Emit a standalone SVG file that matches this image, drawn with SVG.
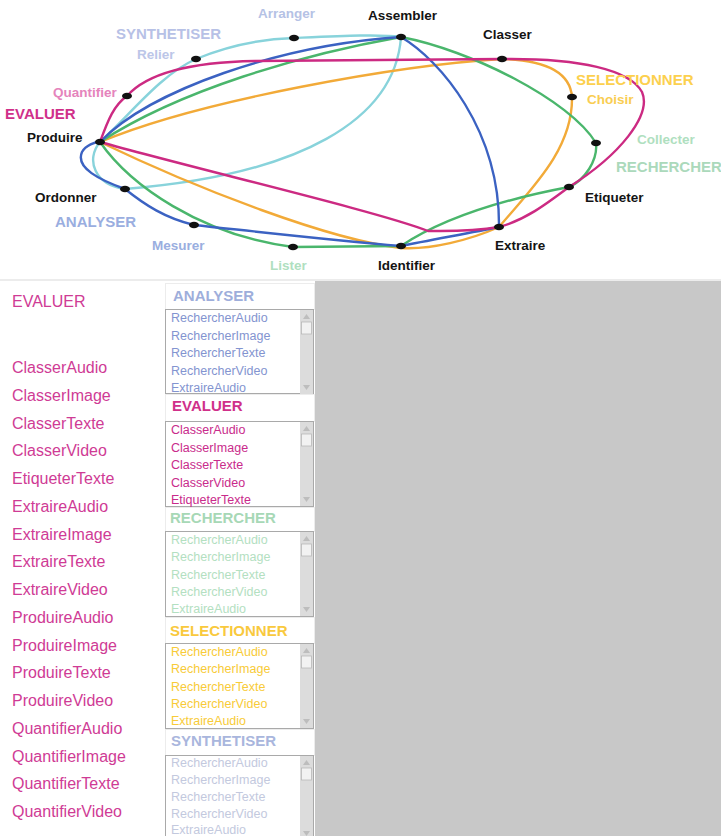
<svg xmlns="http://www.w3.org/2000/svg" width="721" height="836" viewBox="0 0 721 836">
<style>
text{font-family:"Liberation Sans",Arial,sans-serif}
.b{font-weight:bold}
.lbl{font-size:13.5px;font-weight:bold}
.big{font-size:15px;font-weight:bold}
.blk{fill:#141414}
.c{fill:none;stroke-width:2.4;stroke-linecap:round;stroke-linejoin:round}
.mag{stroke:#cc2a82}
.blu{stroke:#3b62c2}
.grn{stroke:#4ab66c}
.org{stroke:#f2aa38}
.cya{stroke:#88d3db}
.dot{fill:#111}
.lst{font-size:16px;fill:#cf3b95}
.itm{font-size:12.5px}
.box{fill:#fff;stroke:#a9a9a9;stroke-width:1}
.hdr{fill:#fff;stroke:#ececec;stroke-width:1}
.trk{fill:#dcdcdc}
.thm{fill:#f2f2f2;stroke:#b8b8b8;stroke-width:0.8}
.arw{fill:#bdbdbd}
</style>
<rect x="0" y="0" width="721" height="836" fill="#fff"/>
<g id="connectors">
<path class="c cya" d="M100,142 C130,115 160,75 196,59 C230,45 260,39 294,38 C340,36 380,34 401,37 C395,120 300,175 125,189 C95,185 85,160 100,142"/>
<path class="c org" d="M100,142 C200,100 400,65 502,59 C540,60 570,70 572,97 C573,150 530,190 499,227 C470,240 430,250 401,248 C330,240 200,190 100,142"/>
<path class="c grn" d="M100,142 C180,90 300,55 401,37 C470,50 570,100 596,143 C598,160 585,180 569,187 C500,200 440,220 401,246 L293,247 C200,235 130,185 100,142"/>
<path class="c blu" d="M100,142 C150,90 280,45 401,37 C440,60 500,130 499,227 C470,233 430,240 401,246 C330,240 260,232 194,225 C165,218 145,205 125,189 C100,180 75,168 82,152 C86,145 95,142 100,142"/>
<path class="c mag" d="M100,142 C108,120 114,105 127,96 C148,72 195,62 255,61 L502,59 C580,58 630,70 642,92 C652,115 620,155 569,187 C545,205 525,220 499,227 C470,232 445,231 428,231 C380,212 200,170 100,142"/>
</g>
<g id="node-produire"><ellipse class="dot" cx="100" cy="142" rx="5" ry="3.2"/><text class="lbl blk" x="27" y="142">Produire</text></g>
<g id="node-evaluer"><text class="big" x="5" y="119" fill="#d0308a">EVALUER</text></g>
<g id="node-quantifier"><ellipse class="dot" cx="127" cy="96" rx="5" ry="3.2"/><text class="lbl" x="53" y="97" fill="#e584bc">Quantifier</text></g>
<g id="node-synthetiser"><text class="big" x="116" y="39" fill="#b7c1e6">SYNTHETISER</text></g>
<g id="node-relier"><ellipse class="dot" cx="196" cy="59" rx="5" ry="3.2"/><text class="lbl" x="137" y="59" fill="#bcc6e8">Relier</text></g>
<g id="node-arranger"><ellipse class="dot" cx="294" cy="38" rx="5" ry="3.2"/><text class="lbl" x="258" y="18" fill="#b5c2e5">Arranger</text></g>
<g id="node-assembler"><ellipse class="dot" cx="401" cy="37" rx="5" ry="3.2"/><text class="lbl blk" x="368" y="20">Assembler</text></g>
<g id="node-classer"><ellipse class="dot" cx="502" cy="59" rx="5" ry="3.2"/><text class="lbl blk" x="483" y="39">Classer</text></g>
<g id="node-selectionner"><text class="big" x="576" y="85" fill="#fcd04e">SELECTIONNER</text></g>
<g id="node-choisir"><ellipse class="dot" cx="572" cy="97" rx="5" ry="3.2"/><text class="lbl" x="587" y="104" fill="#f9cd52">Choisir</text></g>
<g id="node-collecter"><ellipse class="dot" cx="596" cy="143" rx="5" ry="3.2"/><text class="lbl" x="637" y="144" fill="#b0dfc0">Collecter</text></g>
<g id="node-rechercher"><text class="big" x="616" y="172" font-size="14.3" fill="#abd9bb">RECHERCHER</text></g>
<g id="node-etiqueter"><ellipse class="dot" cx="569" cy="187" rx="5" ry="3.2"/><text class="lbl blk" x="585" y="202">Etiqueter</text></g>
<g id="node-extraire"><ellipse class="dot" cx="499" cy="227" rx="5" ry="3.2"/><text class="lbl blk" x="495" y="250">Extraire</text></g>
<g id="node-identifier"><ellipse class="dot" cx="401" cy="246" rx="5" ry="3.2"/><text class="lbl blk" x="378" y="270">Identifier</text></g>
<g id="node-lister"><ellipse class="dot" cx="293" cy="247" rx="5" ry="3.2"/><text class="lbl" x="270" y="270" fill="#b0dfc0">Lister</text></g>
<g id="node-mesurer"><ellipse class="dot" cx="194" cy="225" rx="5" ry="3.2"/><text class="lbl" x="152" y="250" fill="#9aaee0">Mesurer</text></g>
<g id="node-analyser"><text class="big" x="55" y="227" fill="#9aaee0">ANALYSER</text></g>
<g id="node-ordonner"><ellipse class="dot" cx="125" cy="189" rx="5" ry="3.2"/><text class="lbl blk" x="35" y="202">Ordonner</text></g>

<line x1="0" y1="280" x2="721" y2="280" stroke="#e6e6e6" stroke-width="1.5"/>
<rect x="315" y="281" width="406" height="555" fill="#c8c8c8"/>

<g id="left-list">
<text class="lst" x="12" y="307" font-size="15.5">EVALUER</text>
<text class="lst" x="12" y="373">ClasserAudio</text>
<text class="lst" x="12" y="400.75">ClasserImage</text>
<text class="lst" x="12" y="428.5">ClasserTexte</text>
<text class="lst" x="12" y="456.25">ClasserVideo</text>
<text class="lst" x="12" y="484">EtiqueterTexte</text>
<text class="lst" x="12" y="511.75">ExtraireAudio</text>
<text class="lst" x="12" y="539.5">ExtraireImage</text>
<text class="lst" x="12" y="567.25">ExtraireTexte</text>
<text class="lst" x="12" y="595">ExtraireVideo</text>
<text class="lst" x="12" y="622.75">ProduireAudio</text>
<text class="lst" x="12" y="650.5">ProduireImage</text>
<text class="lst" x="12" y="678.25">ProduireTexte</text>
<text class="lst" x="12" y="706">ProduireVideo</text>
<text class="lst" x="12" y="733.75">QuantifierAudio</text>
<text class="lst" x="12" y="761.5">QuantifierImage</text>
<text class="lst" x="12" y="789.25">QuantifierTexte</text>
<text class="lst" x="12" y="817">QuantifierVideo</text>
</g>

<defs>
<g id="sb">
<rect class="trk" x="300" y="0" width="13" height="84"/>
<path class="arw" d="M303,9 L306.5,4 L310,9 Z"/>
<rect class="thm" x="301.5" y="12" width="10" height="12"/>
<path class="arw" d="M303,75 L306.5,80 L310,75 Z"/>
</g>
</defs>

<g id="lb-analyser">
<rect class="hdr" x="165.5" y="283.5" width="149" height="26"/>
<text class="big" x="173" y="301" fill="#9eaedb">ANALYSER</text>
<rect class="box" x="165.5" y="309.5" width="148" height="84"/>
<use href="#sb" y="310"/>
<g class="itm" fill="#8394d0">
<text x="171" y="322">RechercherAudio</text>
<text x="171" y="340">RechercherImage</text>
<text x="171" y="357">RechercherTexte</text>
<text x="171" y="375">RechercherVideo</text>
<text x="171" y="392">ExtraireAudio</text>
</g>
</g>

<g id="lb-evaluer">
<rect class="hdr" x="165.5" y="394.5" width="149" height="27"/>
<text class="big" x="172" y="411" fill="#d0308a">EVALUER</text>
<rect class="box" x="165.5" y="421.5" width="148" height="85"/>
<use href="#sb" y="422"/>
<g class="itm" fill="#c92b8b">
<text x="171" y="434">ClasserAudio</text>
<text x="171" y="452">ClasserImage</text>
<text x="171" y="469">ClasserTexte</text>
<text x="171" y="487">ClasserVideo</text>
<text x="171" y="504">EtiqueterTexte</text>
</g>
</g>

<g id="lb-rechercher">
<rect class="hdr" x="165.5" y="507.5" width="149" height="24"/>
<text class="big" x="170" y="523" fill="#a7d8b6">RECHERCHER</text>
<rect class="box" x="165.5" y="531.5" width="148" height="85"/>
<use href="#sb" y="532"/>
<g class="itm" fill="#b3e0c1">
<text x="171" y="544">RechercherAudio</text>
<text x="171" y="561">RechercherImage</text>
<text x="171" y="579">RechercherTexte</text>
<text x="171" y="596">RechercherVideo</text>
<text x="171" y="613">ExtraireAudio</text>
</g>
</g>

<g id="lb-selectionner">
<rect class="hdr" x="165.5" y="617.5" width="149" height="26"/>
<text class="big" x="170" y="636" fill="#f9c93d">SELECTIONNER</text>
<rect class="box" x="165.5" y="643.5" width="148" height="85"/>
<use href="#sb" y="644"/>
<g class="itm" fill="#f8cb38">
<text x="171" y="656">RechercherAudio</text>
<text x="171" y="673">RechercherImage</text>
<text x="171" y="691">RechercherTexte</text>
<text x="171" y="708">RechercherVideo</text>
<text x="171" y="725">ExtraireAudio</text>
</g>
</g>

<g id="lb-synthetiser">
<rect class="hdr" x="165.5" y="729.5" width="149" height="26"/>
<text class="big" x="171" y="746" fill="#a9b6dd">SYNTHETISER</text>
<rect class="box" x="165.5" y="755.5" width="148" height="84"/>
<use href="#sb" y="756"/>
<g class="itm" fill="#c3c9de">
<text x="171" y="767">RechercherAudio</text>
<text x="171" y="784">RechercherImage</text>
<text x="171" y="801">RechercherTexte</text>
<text x="171" y="818">RechercherVideo</text>
<text x="171" y="834">ExtraireAudio</text>
</g>
</g>
</svg>
